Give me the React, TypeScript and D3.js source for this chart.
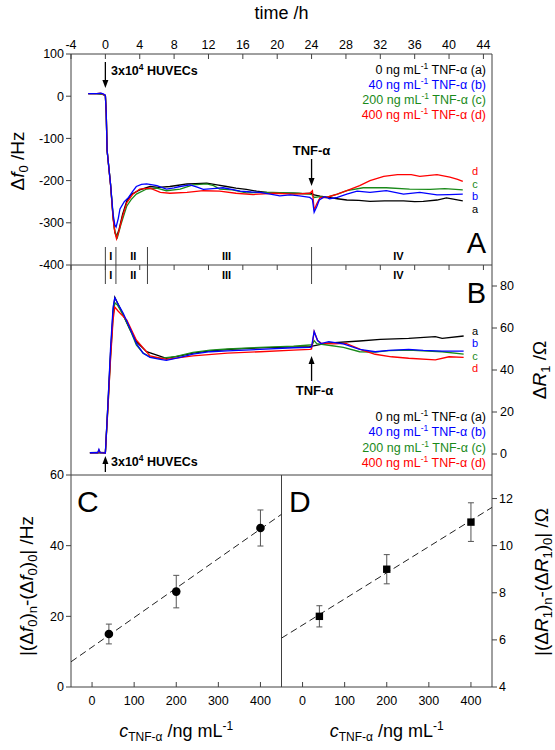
import React from 'react';
import * as d3 from 'd3';

// ---------- tick values ----------
const timeTicks = [-4, 0, 4, 8, 12, 16, 20, 24, 28, 32, 36, 40, 44];
const dfTicks = [100, 0, -100, -200, -300, -400];
const drTicks = [0, 20, 40, 60, 80];
const concTicks = [0, 100, 200, 300, 400];
const cTicks = [0, 20, 40, 60];
const dTicks = [4, 6, 8, 10, 12];

// ---------- series ----------
const seriesKeys = ['a', 'b', 'c', 'd'];
const seriesConc = ['0', '40', '200', '400'];
const seriesColors = ['#000000', '#0000ff', '#1a8a1a', '#ff0000'];

// Panel A: Δf0 (Hz) vs time (h)
const df0_a: [number, number][] = [
  [-2, 6], [-1, 6], [-0.4, 5], [0, 2], [0.1, -40], [0.2, -128], [0.6, -208], [0.9, -287], [1.1, -322], [1.3, -333],
  [1.6, -315], [2, -280], [2.5, -248], [3, -233], [4, -222], [5.2, -214], [6.2, -216], [7.5, -214], [8.5, -211],
  [9.5, -208], [10.5, -207], [11.8, -206], [13, -210], [14.1, -214], [15.2, -218], [16.4, -221], [17.6, -225],
  [18.8, -228], [20, -229], [21.9, -230], [23, -231], [24, -230], [24.3, -234], [25, -237], [26, -240], [27, -243],
  [28.1, -246], [29.5, -247], [30.8, -249], [32.5, -248], [34.7, -248], [36, -250], [37, -249], [38.6, -246],
  [39.7, -241], [40.5, -244], [41.6, -248],
];
const df0_b: [number, number][] = [
  [-2, 6], [-1, 6], [-0.5, 7], [-0.2, 5], [0, 2], [0.1, -40], [0.2, -128], [0.6, -208], [0.9, -280], [1.1, -305],
  [1.25, -310], [1.5, -290], [1.7, -267], [2.2, -250], [2.7, -240], [3.2, -225], [3.6, -214], [4.2, -209],
  [4.8, -208], [5.5, -210], [6, -212], [7.1, -220], [8, -217], [8.7, -214], [9.85, -210], [10.6, -215],
  [11.4, -221], [12.5, -219], [13.7, -217], [14.7, -221], [15.7, -225], [17, -227], [18, -228], [19.2, -232],
  [20.3, -236], [21.5, -234], [22.6, -236], [23.8, -240], [24.1, -245], [24.3, -275], [24.6, -262], [24.9, -246],
  [25.5, -238], [26.1, -243], [27, -240], [28.1, -232], [29.3, -225], [30.8, -228], [32.7, -224], [34.7, -232],
  [36.6, -228], [38.6, -234], [40, -233], [41.6, -232],
];
const df0_c: [number, number][] = [
  [-2, 6], [-1, 6], [-0.4, 5], [0, 2], [0.1, -40], [0.2, -128], [0.6, -208], [0.9, -285], [1.1, -320], [1.4, -335],
  [1.8, -305], [2.5, -260], [3, -245], [3.6, -232], [4.8, -220], [6, -218], [7.1, -224], [8.7, -220], [10.2, -210],
  [11.8, -208], [12.6, -212], [13.3, -220], [14.8, -222], [16.4, -229], [18, -228], [19.5, -228], [21, -229],
  [22.5, -230], [23.8, -232], [24.1, -234], [24.3, -240], [25, -238], [25.7, -240], [27, -232], [28.1, -224],
  [30, -217], [32.7, -217], [35.4, -220], [37.8, -221], [39.5, -219], [41.6, -222],
];
const df0_d: [number, number][] = [
  [-2, 6], [-1, 6], [-0.6, 7], [-0.3, 5], [0, 2], [0.1, -40], [0.2, -128], [0.6, -210], [0.9, -290], [1.1, -322],
  [1.3, -338], [1.6, -318], [2, -285], [2.5, -252], [3.2, -232], [4, -220], [5.2, -218], [6.4, -228], [7.5, -230],
  [9.5, -228], [11.4, -224], [13.3, -225], [15.2, -230], [17.2, -233], [19.6, -230], [22, -232], [23.8, -230],
  [24.1, -224], [24.3, -270], [24.6, -255], [25, -240], [25.7, -240], [27, -232], [28.1, -224], [29.6, -212],
  [30.8, -200], [32.4, -190], [34, -186], [35.6, -186], [36.6, -190], [38.6, -186], [40.1, -192], [41, -197],
  [41.6, -202],
];

// Panel B: ΔR1 (Ω) vs time (h)
const dr1_a: [number, number][] = [
  [-1.8, 0.6], [-0.75, 0.8], [0, 0.6], [0.3, 24], [0.6, 48], [0.9, 68], [1.1, 74.6], [1.4, 72], [2.1, 66],
  [2.9, 59], [3.6, 53.5], [4, 51.9], [4.8, 48.7], [6, 47.1], [7.1, 45.5], [8.7, 46.7], [10.2, 48], [12.2, 49.1],
  [15, 50], [18, 50.5], [21, 50.9], [23.8, 51.1], [25.8, 52.8], [29.6, 53.8], [32, 54.6], [35.3, 55.1],
  [38.4, 55.9], [39.2, 55.1], [41.7, 56.2],
];
const dr1_b: [number, number][] = [
  [-1.8, 0.6], [-0.9, 0.6], [-0.75, 2.2], [-0.6, 0.6], [0, 0.5], [0.3, 24], [0.6, 50], [0.9, 70], [1.1, 74.4],
  [1.4, 72], [2.08, 67], [2.86, 59.9], [3.64, 52.4], [4.4, 48], [5.2, 46], [6.4, 45.1], [7.1, 44.6], [8.7, 46],
  [10.2, 47.6], [12.2, 48.7], [14.2, 49.1], [18, 49.8], [21.9, 50.6], [23.8, 50.8], [24, 51], [24.3, 58.3],
  [24.7, 54], [25.1, 52.6], [26, 53.5], [27.7, 52.4], [29.6, 49.8], [31.4, 48.7], [33, 49.3], [35.3, 49.8],
  [37, 49.3], [39.2, 49], [41.7, 49],
];
const dr1_c: [number, number][] = [
  [-1.8, 0.6], [0, 0.5], [0.3, 22], [0.6, 46], [0.9, 66], [1.1, 72], [1.4, 71], [2.1, 66], [2.9, 59], [3.6, 52],
  [4.4, 48], [5.2, 46.3], [6.4, 45.5], [8, 46.3], [10.2, 48.4], [12.2, 49.5], [14.2, 50], [18, 50.8], [21.9, 51.4],
  [23.8, 51.9], [24.1, 52.2], [24.3, 54], [24.6, 52.5], [25.8, 51.9], [27.7, 50.8], [29.6, 48.7], [31.4, 48.5],
  [33, 49.2], [35.3, 49.5], [37.5, 49], [39.2, 48.7], [41.7, 47.6],
];
const dr1_d: [number, number][] = [
  [-1.8, 0.6], [-0.85, 0.6], [-0.75, 1.8], [-0.6, 0.6], [0, 0.5], [0.3, 22], [0.6, 45], [0.9, 64], [1.1, 70],
  [1.5, 68], [2.5, 63.8], [3.6, 54.3], [5.2, 46.7], [7.1, 45.1], [10.2, 46.7], [14.2, 48], [18, 48.7],
  [21.9, 49.5], [23.8, 49.8], [24, 50], [24.3, 58.3], [24.7, 54], [25.1, 52.8], [26.5, 52.4], [28, 52.7],
  [29.9, 49.5], [31.4, 47.5], [33.3, 46.3], [35.3, 45.6], [38.4, 44.8], [40, 46.3], [41.7, 46],
];

// Panels C and D
const concPts = [40, 200, 400];
const dfShift = [15, 27, 45];
const dfShiftErr = [2.8, 4.6, 5.1];
const drShift = [7.0, 9.0, 11.0];
const drShiftErr = [0.45, 0.62, 0.82];
const dfFit = [11.3, 0.0835]; // intercept, slope
const drFit = [6.63, 0.0111];
const fitRange = [-50, 450];

// phases
const phaseBounds = [0, 1.23, 4.9, 24];
const phaseNames = ['I', 'II', 'III', 'IV'];
const phaseCenters = [0.62, 3.25, 14.1, 34.1];

const FONT = "'Liberation Sans', Arial, Helvetica, sans-serif";
const AX = '#404040';

const L = 71, R = 492, TOP = 54, AB = 265, BC = 475, BOT = 687, MID = 281.5;

const x = d3.scaleLinear().domain([-4, 45]).range([L, R]);
const yA = d3.scaleLinear().domain([-400, 100]).range([AB, TOP]);
const yB = d3.scaleLinear().domain([-10, 90]).range([BC, AB]);
const xC = d3.scaleLinear().domain([-50, 450]).range([L, MID]);
const xD = d3.scaleLinear().domain([-50, 450]).range([MID, R]);
const yC = d3.scaleLinear().domain([0, 60]).range([BOT, BC]);
const yD = d3.scaleLinear().domain([4, 13]).range([BOT, BC]);

const dfSeries = [df0_a, df0_b, df0_c, df0_d];
const drSeries = [dr1_a, dr1_b, dr1_c, dr1_d];
const drawOrder = [0, 2, 3, 1];

function Arrow({ x0, y0, y1 }: { x0: number; y0: number; y1: number }) {
  const dir = y1 > y0 ? 1 : -1;
  const hl = 8, hw = 3;
  return (
    <g>
      <line x1={x0} y1={y0} x2={x0} y2={y1 - dir * hl * 0.7} stroke="#000" strokeWidth={1.3} />
      <path d={`M${x0},${y1} L${x0 - hw},${y1 - dir * hl} L${x0 + hw},${y1 - dir * hl} Z`} fill="#000" />
    </g>
  );
}

function Legend({ yStart }: { yStart: number }) {
  return (
    <g fontFamily={FONT} fontSize={12.5} textAnchor="end">
      {seriesKeys.map((k, i) => (
        <text key={k} x={486} y={yStart + i * 15.3} fill={seriesColors[i]}>
          {seriesConc[i]} ng mL<tspan dy={-5} fontSize={8.5}>-1</tspan>
          <tspan dy={5}> TNF-α ({k})</tspan>
        </text>
      ))}
    </g>
  );
}

function Huvecs({ xx, yy }: { xx: number; yy: number }) {
  return (
    <text x={xx} y={yy} fontFamily={FONT} fontWeight="bold" fontSize={12.5}>
      3x10<tspan dy={-5} fontSize={8.5}>4</tspan>
      <tspan dy={5}> HUVECs</tspan>
    </text>
  );
}

export default function App() {
  const lineA = d3.line<[number, number]>().x((d) => x(d[0])).y((d) => yA(d[1]));
  const lineB = d3.line<[number, number]>().x((d) => x(d[0])).y((d) => yB(d[1]));

  const labelA_y: Record<string, number> = { d: 171.5, c: 184, b: 196.5, a: 209 };
  const labelB_y: Record<string, number> = { a: 331, b: 343.5, c: 356, d: 368.5 };

  return (
    <svg width={555} height={750} style={{ position: 'absolute', left: 0, top: 0, background: '#fff' }}>
      <rect x={0} y={0} width={555} height={750} fill="#fff" />
      {/* title */}
      <text x={(L + R) / 2} y={19} textAnchor="middle" fontFamily={FONT} fontSize={18}>time /h</text>

      {/* top axis ticks and labels */}
      {timeTicks.map((t) => (
        <g key={'tt' + t}>
          <line x1={x(t)} x2={x(t)} y1={TOP} y2={TOP + 5} stroke={AX} />
          <text x={x(t)} y={48.5} textAnchor="middle" fontFamily={FONT} fontSize={12.5}>{t}</text>
          <line x1={x(t)} x2={x(t)} y1={AB} y2={AB + 5} stroke={AX} />
        </g>
      ))}

      {/* panel A left axis */}
      {dfTicks.map((v) => (
        <g key={'df' + v}>
          <line x1={L - 5} x2={L} y1={yA(v)} y2={yA(v)} stroke={AX} />
          <text x={64} y={yA(v)} dy="0.35em" textAnchor="end" fontFamily={FONT} fontSize={12.5}>{v}</text>
        </g>
      ))}

      {/* panel B right axis */}
      {drTicks.map((v) => (
        <g key={'dr' + v}>
          <line x1={R} x2={R + 5} y1={yB(v)} y2={yB(v)} stroke={AX} />
          <text x={500} y={yB(v)} dy="0.35em" textAnchor="start" fontFamily={FONT} fontSize={12.5}>{v}</text>
        </g>
      ))}

      {/* frame lines */}
      <line x1={L} x2={R} y1={TOP} y2={TOP} stroke={AX} />
      <line x1={L} x2={R} y1={AB} y2={AB} stroke={AX} />
      <line x1={L} x2={R} y1={BC} y2={BC} stroke={AX} />
      <line x1={L} x2={R} y1={BOT} y2={BOT} stroke={AX} />
      <line x1={L} x2={L} y1={TOP} y2={BOT} stroke={AX} />
      <line x1={R} x2={R} y1={TOP} y2={BOT} stroke={AX} />
      <line x1={MID} x2={MID} y1={BC} y2={BOT} stroke={AX} />

      {/* phase separators */}
      {phaseBounds.map((t) => (
        <line key={'pb' + t} x1={x(t)} x2={x(t)} y1={247} y2={284} stroke={AX} />
      ))}
      {phaseNames.map((n, i) => (
        <g key={'pn' + n} fontFamily={FONT} fontWeight="bold" fontSize={11} textAnchor="middle">
          <text x={x(phaseCenters[i])} y={260}>{n}</text>
          <text x={x(phaseCenters[i])} y={279}>{n}</text>
        </g>
      ))}

      {/* panel A curves */}
      {drawOrder.map((i) => (
        <path key={'A' + i} d={lineA(dfSeries[i]) || ''} fill="none" stroke={seriesColors[i]} strokeWidth={1.3} />
      ))}
      {/* panel B curves */}
      {drawOrder.map((i) => (
        <path key={'B' + i} d={lineB(drSeries[i]) || ''} fill="none" stroke={seriesColors[i]} strokeWidth={1.3} />
      ))}

      {/* curve end labels */}
      {seriesKeys.map((k, i) => (
        <g key={'lbl' + k} fontFamily={FONT} fontSize={11} textAnchor="middle" fill={seriesColors[i]}>
          <text x={475} y={labelA_y[k]} dy="0.35em">{k}</text>
          <text x={475} y={labelB_y[k]} dy="0.35em">{k}</text>
        </g>
      ))}

      {/* legends */}
      <Legend yStart={73.5} />
      <Legend yStart={421} />

      {/* annotations */}
      <Arrow x0={x(0)} y0={62} y1={88} />
      <Huvecs xx={111} yy={75} />
      <Arrow x0={x(0)} y0={472} y1={456} />
      <Huvecs xx={111} yy={466} />
      <text x={x(24)} y={155} textAnchor="middle" fontFamily={FONT} fontWeight="bold" fontSize={13}>TNF-α</text>
      <Arrow x0={x(24)} y0={159} y1={186} />
      <Arrow x0={x(24)} y0={381} y1={356} />
      <text x={x(24) + 3} y={395} textAnchor="middle" fontFamily={FONT} fontWeight="bold" fontSize={13}>TNF-α</text>

      {/* panel letters */}
      <text x={486} y={253} textAnchor="end" fontFamily={FONT} fontSize={29}>A</text>
      <text x={486} y={303} textAnchor="end" fontFamily={FONT} fontSize={29}>B</text>
      <text x={77} y={512} fontFamily={FONT} fontSize={30}>C</text>
      <text x={289} y={512} fontFamily={FONT} fontSize={30}>D</text>

      {/* y labels A, B */}
      <text transform="translate(24,161) rotate(-90)" textAnchor="middle" fontFamily={FONT} fontSize={19}>
        Δ<tspan fontStyle="italic">f</tspan><tspan dy={4} fontSize={13}>0</tspan><tspan dy={-4}> /Hz</tspan>
      </text>
      <text transform="translate(546,370) rotate(-90)" textAnchor="middle" fontFamily={FONT} fontSize={19}>
        Δ<tspan fontStyle="italic">R</tspan><tspan dy={4} fontSize={13}>1</tspan><tspan dy={-4}> /Ω</tspan>
      </text>

      {/* panel C axes */}
      {concTicks.map((c) => (
        <g key={'cx' + c} fontFamily={FONT} fontSize={12.5} textAnchor="middle">
          <line x1={xC(c)} x2={xC(c)} y1={BOT} y2={BOT - 5} stroke={AX} />
          <text x={xC(c)} y={704.5}>{c}</text>
          <line x1={xD(c)} x2={xD(c)} y1={BOT} y2={BOT - 5} stroke={AX} />
          <text x={xD(c)} y={704.5}>{c}</text>
        </g>
      ))}
      {cTicks.map((v) => (
        <g key={'cy' + v}>
          <line x1={L - 5} x2={L} y1={yC(v)} y2={yC(v)} stroke={AX} />
          <text x={64} y={yC(v)} dy="0.35em" textAnchor="end" fontFamily={FONT} fontSize={12.5}>{v}</text>
        </g>
      ))}
      {dTicks.map((v) => (
        <g key={'dy' + v}>
          <line x1={R} x2={R + 5} y1={yD(v)} y2={yD(v)} stroke={AX} />
          <text x={499} y={yD(v)} dy="0.35em" textAnchor="start" fontFamily={FONT} fontSize={12.5}>{v}</text>
        </g>
      ))}

      {/* fit lines */}
      <line x1={xC(fitRange[0])} x2={xC(fitRange[1])} y1={yC(dfFit[0] + dfFit[1] * fitRange[0])}
        y2={yC(dfFit[0] + dfFit[1] * fitRange[1])} stroke="#222" strokeWidth={1} strokeDasharray="7,4" />
      <line x1={xD(fitRange[0])} x2={xD(fitRange[1])} y1={yD(drFit[0] + drFit[1] * fitRange[0])}
        y2={yD(drFit[0] + drFit[1] * fitRange[1])} stroke="#222" strokeWidth={1} strokeDasharray="7,4" />

      {/* C points */}
      {concPts.map((c, i) => (
        <g key={'cp' + c}>
          <line x1={xC(c)} x2={xC(c)} y1={yC(dfShift[i] - dfShiftErr[i])} y2={yC(dfShift[i] + dfShiftErr[i])} stroke="#555" />
          <line x1={xC(c) - 3} x2={xC(c) + 3} y1={yC(dfShift[i] - dfShiftErr[i])} y2={yC(dfShift[i] - dfShiftErr[i])} stroke="#555" />
          <line x1={xC(c) - 3} x2={xC(c) + 3} y1={yC(dfShift[i] + dfShiftErr[i])} y2={yC(dfShift[i] + dfShiftErr[i])} stroke="#555" />
          <circle cx={xC(c)} cy={yC(dfShift[i])} r={4.3} fill="#000" />
        </g>
      ))}
      {/* D points */}
      {concPts.map((c, i) => (
        <g key={'dp' + c}>
          <line x1={xD(c)} x2={xD(c)} y1={yD(drShift[i] - drShiftErr[i])} y2={yD(drShift[i] + drShiftErr[i])} stroke="#555" />
          <line x1={xD(c) - 3} x2={xD(c) + 3} y1={yD(drShift[i] - drShiftErr[i])} y2={yD(drShift[i] - drShiftErr[i])} stroke="#555" />
          <line x1={xD(c) - 3} x2={xD(c) + 3} y1={yD(drShift[i] + drShiftErr[i])} y2={yD(drShift[i] + drShiftErr[i])} stroke="#555" />
          <rect x={xD(c) - 3.7} y={yD(drShift[i]) - 3.7} width={7.4} height={7.4} fill="#000" />
        </g>
      ))}

      {/* C, D y labels */}
      <text transform="translate(33,586) rotate(-90)" textAnchor="middle" fontFamily={FONT} fontSize={19}>
        |(Δ<tspan fontStyle="italic">f</tspan><tspan dy={4} fontSize={13}>0</tspan><tspan dy={-4}>)</tspan>
        <tspan dy={4} fontSize={13}>n</tspan><tspan dy={-4}>-(Δ</tspan><tspan fontStyle="italic">f</tspan>
        <tspan dy={4} fontSize={13}>0</tspan><tspan dy={-4}>)</tspan><tspan dy={4} fontSize={13}>0</tspan>
        <tspan dy={-4}>| /Hz</tspan>
      </text>
      <text transform="translate(548,582) rotate(-90)" textAnchor="middle" fontFamily={FONT} fontSize={19}>
        |(Δ<tspan fontStyle="italic">R</tspan><tspan dy={4} fontSize={13}>1</tspan><tspan dy={-4}>)</tspan>
        <tspan dy={4} fontSize={13}>n</tspan><tspan dy={-4}>-(Δ</tspan><tspan fontStyle="italic">R</tspan>
        <tspan dy={4} fontSize={13}>1</tspan><tspan dy={-4}>)</tspan><tspan dy={4} fontSize={13}>0</tspan>
        <tspan dy={-4}>| /Ω</tspan>
      </text>

      {/* x labels */}
      {[(L + MID) / 2, (MID + R) / 2].map((cx, i) => (
        <text key={'xl' + i} x={cx} y={737} textAnchor="middle" fontFamily={FONT} fontSize={18}>
          <tspan fontStyle="italic">c</tspan><tspan dy={4} fontSize={12}>TNF-α</tspan>
          <tspan dy={-4}> /ng mL</tspan><tspan dy={-7} fontSize={12}>-1</tspan>
        </text>
      ))}
    </svg>
  );
}
